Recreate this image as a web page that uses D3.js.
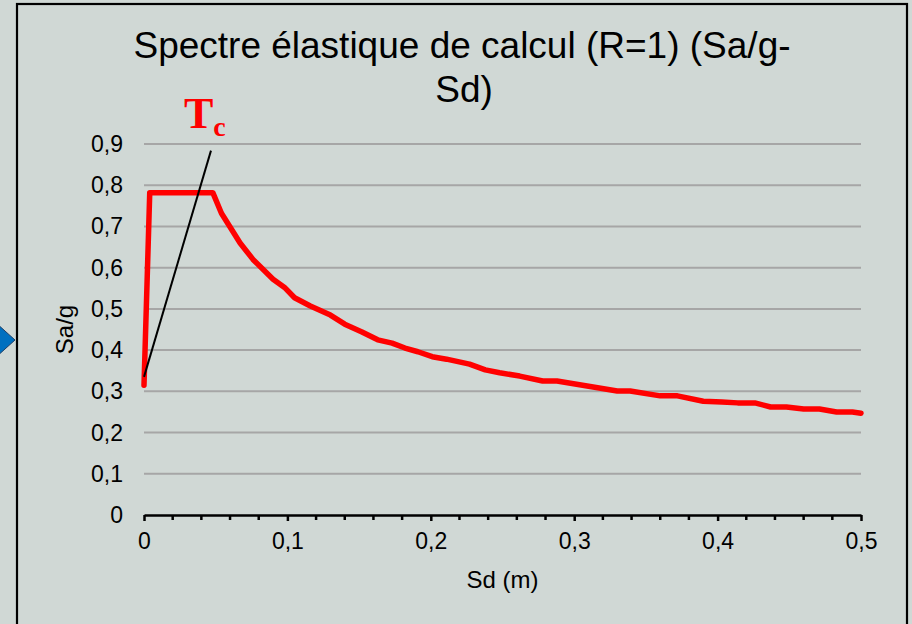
<!DOCTYPE html>
<html>
<head>
<meta charset="utf-8">
<script src="https://cdn.jsdelivr.net/npm/d3@7"></script>
<style>
  body { margin: 0; background: #d0d8d5; }
  svg { display: block; font-family: "Liberation Sans", Arial, sans-serif; }
</style>
</head>
<body>
<div id="chart"></div>
<script>
// spectrum points (Sd in m, Sa in g)
var sd = [0, 0.004, 0.048, 0.054, 0.067, 0.076, 0.090, 0.098, 0.105, 0.116, 0.130, 0.140, 0.152,
  0.163, 0.173, 0.182, 0.191, 0.201, 0.211, 0.227, 0.238, 0.248, 0.262, 0.278, 0.288, 0.309,
  0.330, 0.339, 0.360, 0.372, 0.390, 0.403, 0.414, 0.426, 0.437, 0.448, 0.460, 0.471, 0.483, 0.494, 0.5];
var sa = [0.315, 0.782, 0.782, 0.732, 0.66, 0.62, 0.572, 0.552, 0.527, 0.507, 0.485, 0.463, 0.444,
  0.425, 0.417, 0.405, 0.396, 0.384, 0.378, 0.366, 0.352, 0.345, 0.337, 0.325, 0.325, 0.313,
  0.301, 0.301, 0.289, 0.289, 0.276, 0.274, 0.272, 0.272, 0.262, 0.262, 0.257, 0.257, 0.25, 0.25, 0.247];

var yTicks = [0, 0.1, 0.2, 0.3, 0.4, 0.5, 0.6, 0.7, 0.8, 0.9];
var xTicks = [0, 0.1, 0.2, 0.3, 0.4, 0.5];
var xMinor = [0.02, 0.04, 0.06, 0.08, 0.12, 0.14, 0.16, 0.18, 0.22, 0.24, 0.26, 0.28,
  0.32, 0.34, 0.36, 0.38, 0.42, 0.44, 0.46, 0.48];

// Tc pointer line, in data units
var tcLine = [{ x: 0, y: 0.335 }, { x: 0.0467, y: 0.884 }];

var W = 912, H = 624;
var svg = d3.select("#chart").append("svg").attr("width", W).attr("height", H);

svg.append("rect").attr("width", W).attr("height", H).attr("fill", "#d0d8d5");

// chart box border
svg.append("rect")
  .attr("x", 17).attr("y", 4).attr("width", 890).attr("height", 700)
  .attr("fill", "none").attr("stroke", "#000").attr("stroke-width", 2.2);

// blue arrow at the left edge
svg.append("path")
  .attr("d", "M-5,322 L15,340 L-5,358 Z")
  .attr("fill", "#0070c0").attr("stroke", "#1f3f66").attr("stroke-width", 1);

var x = d3.scaleLinear().domain([0, 0.5]).range([144, 861]);
var y = d3.scaleLinear().domain([0, 0.9]).range([515, 144]);

var fmt = function (d) { return d3.format("")(d).replace(".", ","); };

// gridlines
svg.append("g").selectAll("line")
  .data(yTicks.filter(function (d) { return d > 0; }))
  .join("line")
  .attr("x1", x(0)).attr("x2", x(0.5))
  .attr("y1", function (d) { return y(d); }).attr("y2", function (d) { return y(d); })
  .attr("stroke", "#a6a6a6").attr("stroke-width", 2);

// y labels
svg.append("g").selectAll("text")
  .data(yTicks)
  .join("text")
  .attr("x", 123).attr("y", function (d) { return y(d); })
  .attr("dy", "0.35em").attr("text-anchor", "end")
  .attr("font-size", 23).attr("fill", "#000")
  .text(fmt);

// x axis
var xAxis = d3.axisBottom(x).tickValues(xTicks).tickSize(6).tickFormat(fmt).tickSizeOuter(0);
var gx = svg.append("g").attr("transform", "translate(0," + y(0) + ")").call(xAxis);
gx.select(".domain").attr("stroke", "#000").attr("stroke-width", 2.5);
gx.selectAll(".tick line").attr("stroke", "#000").attr("stroke-width", 2.5);
gx.selectAll(".tick text").attr("font-size", 23).attr("fill", "#000").attr("dy", "1.1em")
  .attr("font-family", "Liberation Sans, Arial, sans-serif");
gx.append("g").selectAll("line")
  .data(xMinor)
  .join("line")
  .attr("x1", function (d) { return x(d); }).attr("x2", function (d) { return x(d); })
  .attr("y1", 0).attr("y2", 5)
  .attr("stroke", "#000").attr("stroke-width", 2.5);

// spectrum line
var pts = sd.map(function (d, i) { return { x: d, y: sa[i] }; });
var line = d3.line().x(function (d) { return x(d.x); }).y(function (d) { return y(d.y); });
svg.append("path")
  .attr("d", line(pts))
  .attr("fill", "none").attr("stroke", "#ff0000").attr("stroke-width", 5.5)
  .attr("stroke-linejoin", "round").attr("stroke-linecap", "round");

// Tc pointer
svg.append("path")
  .attr("d", line(tcLine))
  .attr("stroke", "#000").attr("stroke-width", 2).attr("fill", "none");

var tc = svg.append("text")
  .attr("x", 184).attr("y", 128)
  .attr("font-family", "Liberation Serif, Times New Roman, serif")
  .attr("font-weight", "bold").attr("fill", "#ff0000").attr("font-size", 44);
tc.append("tspan").text("T");
tc.append("tspan").attr("font-size", 28).attr("dy", 8).text("c");

// title
svg.append("text")
  .attr("x", 462).attr("y", 58).attr("text-anchor", "middle")
  .attr("font-size", 37).attr("fill", "#000")
  .text("Spectre élastique de calcul (R=1) (Sa/g-");
svg.append("text")
  .attr("x", 464).attr("y", 102).attr("text-anchor", "middle")
  .attr("font-size", 37).attr("fill", "#000")
  .text("Sd)");

// axis titles
svg.append("text")
  .attr("x", x(0.25)).attr("y", 588).attr("text-anchor", "middle")
  .attr("font-size", 24).attr("fill", "#000")
  .text("Sd (m)");
svg.append("text")
  .attr("transform", "translate(73," + y(0.45) + ") rotate(-90)")
  .attr("text-anchor", "middle")
  .attr("font-size", 24).attr("fill", "#000")
  .text("Sa/g");
</script>
</body>
</html>
